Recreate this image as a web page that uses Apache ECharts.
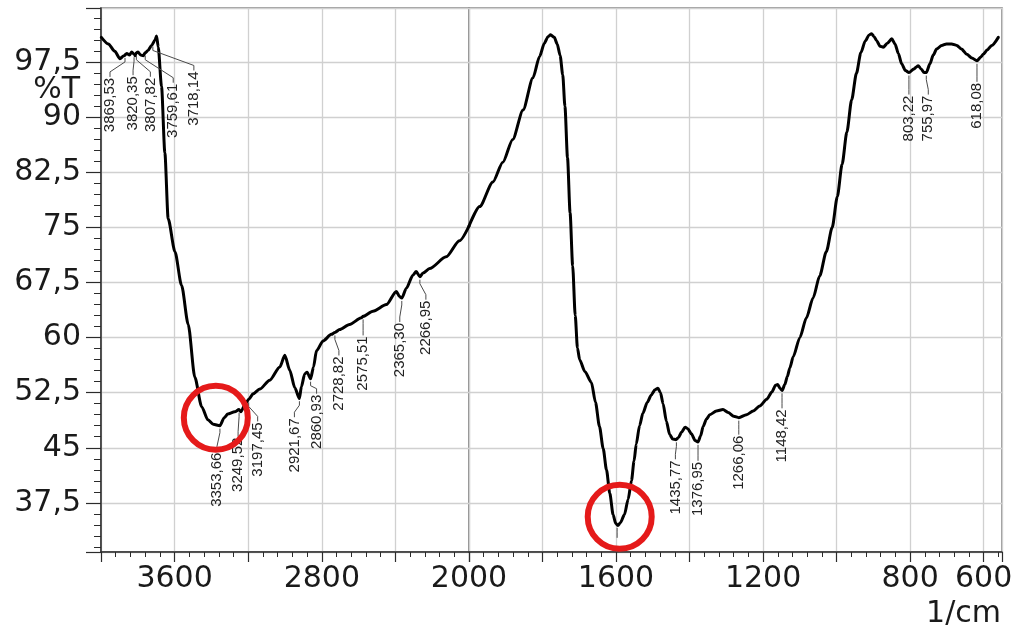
<!DOCTYPE html>
<html><head><meta charset="utf-8">
<script src="https://cdn.jsdelivr.net/npm/echarts@6/dist/echarts.min.js"></script>
<style>html,body{margin:0;padding:0;background:#fff}#c{width:1015px;height:632px}</style>
</head><body><div id="c"></div>
<script>
// ---------- DATA ----------
const wavenumbers = [
  3998, 3960, 3925, 3897, 3875, 3860, 3845, 3833, 3820, 3815, 3808, 3799, 3785, 3770, 3760, 3745, 3725, 3707, 3698, 3689,
  3671, 3653, 3635, 3598, 3562, 3526, 3490, 3453, 3419, 3390, 3354, 3330, 3311, 3273, 3250, 3240, 3215, 3197, 3173, 3137,
  3083, 3028, 3001, 2974, 2947, 2922, 2911, 2893, 2880, 2861, 2845, 2829, 2793, 2748, 2729, 2703, 2649, 2585, 2575, 2522,
  2449, 2395, 2378, 2365, 2341, 2305, 2287, 2267, 2250, 2214, 2124, 2052, 2000,
  1971, 1935, 1908, 1881, 1853, 1826, 1808, 1795, 1785, 1778, 1768, 1760, 1752, 1745, 1739, 1732, 1725, 1718, 1711, 1705,
  1699, 1685, 1667, 1656, 1645, 1635, 1626, 1617, 1608, 1601, 1595, 1588, 1577, 1567, 1558, 1551, 1545, 1536, 1527, 1515,
  1504, 1494, 1486, 1479, 1472, 1463, 1454, 1446, 1437, 1430, 1422, 1412, 1405, 1395, 1385, 1377, 1370, 1363, 1354, 1345,
  1327, 1309, 1295, 1280, 1266, 1245, 1227, 1209, 1190, 1176, 1166, 1160, 1154, 1148, 1141, 1134, 1127, 1118, 1100, 1082,
  1064, 1046, 1028, 1012, 998, 985, 972, 959, 946, 934, 922, 912, 905, 898, 891, 882, 873, 862, 850, 841,
  832, 823, 813, 803, 790, 782, 778, 770, 762, 756, 746, 737, 728, 714, 701, 687, 673, 660, 646, 632,
  618, 608, 601, 590, 578, 560
];
const transmittance = [
  100.9, 100.0, 99.0, 98.0, 98.4, 98.7, 98.5, 98.9, 98.6, 98.4, 98.8, 98.9, 98.5, 98.4, 98.8, 99.1, 99.8, 100.5, 101.1, 99.6,
  94.2, 85.2, 76.2, 71.7, 67.1, 61.8, 54.6, 50.6, 48.8, 48.2, 48.0, 49.1, 49.6, 49.9, 50.2, 49.9, 51.0, 51.6, 52.35, 53.0,
  54.2, 56.0, 57.6, 55.55, 53.2, 51.7, 53.3, 55.05, 55.3, 54.4, 56.0, 58.2, 59.55, 60.45, 60.7, 61.1, 61.8, 62.7, 62.9, 63.6,
  64.5, 66.3, 65.6, 65.4, 66.7, 68.5, 69.0, 68.3, 68.8, 69.4, 71.0, 73.2, 75.2,
  77.85, 81.2, 83.9, 87.0, 91.0, 95.4, 98.3, 100.1, 101.0, 101.25, 100.9, 100.0, 98.4, 95.8, 91.5, 84.5, 77.0, 69.8, 63.0, 58.6,
  57.0, 55.4, 53.9, 51.2, 47.9, 44.9, 42.0, 38.8, 35.9, 34.7, 34.4, 34.8, 35.9, 38.0, 40.5, 43.2, 45.5, 48.0, 49.7, 51.2,
  52.2, 52.9, 53.1, 52.5, 51.0, 48.6, 46.8, 46.2, 46.1, 46.4, 47.1, 47.8, 47.6, 46.9, 46.0, 45.8, 46.6, 47.9, 48.9, 49.5,
  50.0, 50.2, 49.8, 49.3, 49.1, 49.5, 50.0, 50.7, 51.6, 52.6, 53.5, 53.6, 53.1, 52.8, 53.6, 54.7, 55.9, 57.4, 60.0, 62.7,
  65.4, 68.4, 71.7, 75.0, 79.2, 83.6, 88.0, 92.4, 96.0, 98.8, 100.4, 101.2, 101.4, 101.0, 100.45, 99.7, 99.55, 100.1, 100.7, 100.0,
  98.7, 97.3, 96.4, 96.1, 96.6, 96.9, 97.05, 96.6, 96.1, 96.1, 97.3, 98.5, 99.3, 99.8, 100.0, 100.0, 99.8, 99.3, 98.6, 98.1,
  97.7, 98.2, 98.6, 99.2, 99.8, 100.9
];
const peakWavenumbers = [3869.53, 3820.35, 3807.82, 3759.61, 3718.14, 3353.66, 3249.52, 3197.45, 2921.67, 2860.93,
  2728.82, 2575.51, 2365.30, 2266.95, 1597, 1435.77, 1376.95, 1266.06, 1148.42, 803.22, 755.97, 618.08];
const peakLabels = ['3869,53', '3820,35', '3807,82', '3759,61', '3718,14', '3353,66', '3249,52', '3197,45', '2921,67', '2860,93',
  '2728,82', '2575,51', '2365,30', '2266,95', '', '1435,77', '1376,95', '1266,06', '1148,42', '803,22', '755,97', '618,08'];
const xTickLabelsLeft = [3600, 2800, 2000];
const xTickLabelsRight = [1600, 1200, 800, 600];
const yTickLabels = [97.5, 90, 82.5, 75, 67.5, 60, 52.5, 45, 37.5];
const circledBands = [[3376, 49.1], [1590, 35.6]];

// ---------- LAYOUT (pixel offsets of peak labels from their band point) ----------
const PEAK_LABEL_OFFSETS = [[-15, 23], [-1, 22], [14, 25], [28, 31], [41, 28], [-3, 27], [-1, 28], [9, 23], [-5, 20], [6, 16],
  [4, 24], [0, 20], [-2, 25], [6, 24], [0, 14], [-1, 21], [0, 20], [0, 18], [0, 19], [0, 23], [2, 23], [0, 22]];

const FONT = '"DejaVu Sans", sans-serif';
const Y_MIN = 30.8, Y_MAX = 104.9;

function interpT(wn) {
  for (let i = 0; i < wavenumbers.length - 1; i++) {
    const a = wavenumbers[i], b = wavenumbers[i + 1];
    if (wn <= a && wn >= b) {
      const f = (wn - a) / (b - a);
      return transmittance[i] + f * (transmittance[i + 1] - transmittance[i]);
    }
  }
  return transmittance[transmittance.length - 1];
}

const spectrum = wavenumbers.map((w, i) => [w, transmittance[i]]);
const leftData = spectrum.filter(p => p[0] >= 2000);
const rightData = spectrum.filter(p => p[0] <= 2000);
const peakData = peakWavenumbers.map((w, i) => [w, interpT(w), i]);
const peaksLeft = peakData.filter(p => p[0] > 2000);
const peaksRight = peakData.filter(p => p[0] < 2000);

function renderPeak(params, api) {
  const i = api.value(2);
  const p = api.coord([api.value(0), api.value(1)]);
  const off = PEAK_LABEL_OFFSETS[i];
  const lx = p[0] + off[0], ly = p[1] + off[1];
  const children = [{
    type: 'polyline',
    shape: { points: [[p[0], p[1] + 3], [p[0], p[1] + 7], [lx, ly - 6], [lx, ly - 1]] },
    style: { stroke: '#4a4a4a', lineWidth: 1, fill: 'none' }
  }];
  if (peakLabels[i]) {
    children.push({
      type: 'text', x: lx, y: ly, rotation: Math.PI / 2,
      style: { text: peakLabels[i], fill: '#222', font: '15px "Liberation Sans", Arial, sans-serif',
        align: 'right', verticalAlign: 'middle' }
    });
  }
  return { type: 'group', children };
}

const gridCommon = { top: 8, height: 544, show: true, borderColor: '#7c7c7c', borderWidth: 1.5, containLabel: false, outerBoundsMode: 'none' };
const splitLine = { show: true, lineStyle: { color: '#d0d0d0', width: 1.3 } };
const axisLineDark = { show: true, lineStyle: { color: '#2b2b2b', width: 1.5 } };

function xAxisBase(gridIndex, labels) {
  return {
    type: 'value', gridIndex, inverse: true, position: 'bottom',
    axisLine: axisLineDark,
    axisTick: { show: true, inside: false, length: 10, lineStyle: { color: '#2b2b2b', width: 1.2 } },
    minorTick: { show: true, splitNumber: 5, length: 5, lineStyle: { color: '#2b2b2b', width: 1 } },
    splitLine,
    axisLabel: {
      show: true, margin: 12, color: '#1a1a1a', fontFamily: FONT, fontSize: 30, hideOverlap: false,
      showMinLabel: true, showMaxLabel: true,
      formatter: v => labels.some(l => Math.abs(l - v) < 1e-6) ? String(v) : ''
    }
  };
}

const lineSeries = (xi, data) => ({
  type: 'line', xAxisIndex: xi, yAxisIndex: xi, data, showSymbol: false, smooth: 0.25, smoothMonotone: 'x',
  lineStyle: { color: '#000', width: 3, join: 'round', cap: 'round' }, silent: true, z: 3
});
const circleSeries = (xi, data) => ({
  type: 'scatter', xAxisIndex: xi, yAxisIndex: xi, data, symbol: 'circle', symbolSize: 64,
  itemStyle: { color: 'rgba(0,0,0,0)', borderColor: '#e51a1a', borderWidth: 6, opacity: 1 }, silent: true, z: 6
});

const option = {
  animation: false,
  backgroundColor: '#ffffff',
  grid: [
    Object.assign({ left: 101, width: 368 }, gridCommon),
    Object.assign({ left: 469, width: 533 }, gridCommon)
  ],
  xAxis: [
    Object.assign(xAxisBase(0, xTickLabelsLeft), { min: 2000, max: 4000, interval: 400 }),
    Object.assign(xAxisBase(1, xTickLabelsRight), { min: 550, max: 2000, minInterval: 200, maxInterval: 200 })
  ],
  yAxis: [
    {
      type: 'value', gridIndex: 0, min: Y_MIN, max: Y_MAX, minInterval: 7.5, maxInterval: 7.5,
      axisLine: axisLineDark,
      axisTick: { show: true, inside: false, length: 15, lineStyle: { color: '#2b2b2b', width: 1.2 } },
      minorTick: { show: true, splitNumber: 5, length: 7, lineStyle: { color: '#2b2b2b', width: 1 } },
      splitLine,
      axisLabel: {
        show: true, margin: 20, color: '#1a1a1a', fontFamily: FONT, fontSize: 30, hideOverlap: false,
        showMinLabel: true, showMaxLabel: true,
        formatter: v => yTickLabels.some(l => Math.abs(l - v) < 1e-6) ? String(v).replace('.', ',') : ''
      }
    },
    {
      type: 'value', gridIndex: 1, min: Y_MIN, max: Y_MAX, minInterval: 7.5, maxInterval: 7.5,
      axisLine: { show: false }, axisTick: { show: false }, axisLabel: { show: false }, minorTick: { show: false },
      splitLine
    }
  ],
  graphic: [
    { type: 'text', x: 80, y: 90, style: { text: '%T', font: '30px ' + FONT, fill: '#1a1a1a', align: 'right', verticalAlign: 'middle' } },
    { type: 'text', x: 1001, y: 614, style: { text: '1/cm', font: '30px ' + FONT, fill: '#1a1a1a', align: 'right', verticalAlign: 'middle' } }
  ],
  series: [
    lineSeries(0, leftData),
    lineSeries(1, rightData),
    { type: 'custom', xAxisIndex: 0, yAxisIndex: 0, data: peaksLeft, renderItem: renderPeak, silent: true, z: 4 },
    { type: 'custom', xAxisIndex: 1, yAxisIndex: 1, data: peaksRight, renderItem: renderPeak, silent: true, z: 4 },
    circleSeries(0, circledBands.filter(c => c[0] > 2000)),
    circleSeries(1, circledBands.filter(c => c[0] < 2000))
  ]
};

const chart = echarts.init(document.getElementById('c'), null, { renderer: 'canvas' });
chart.setOption(option);
</script>
</body></html>
